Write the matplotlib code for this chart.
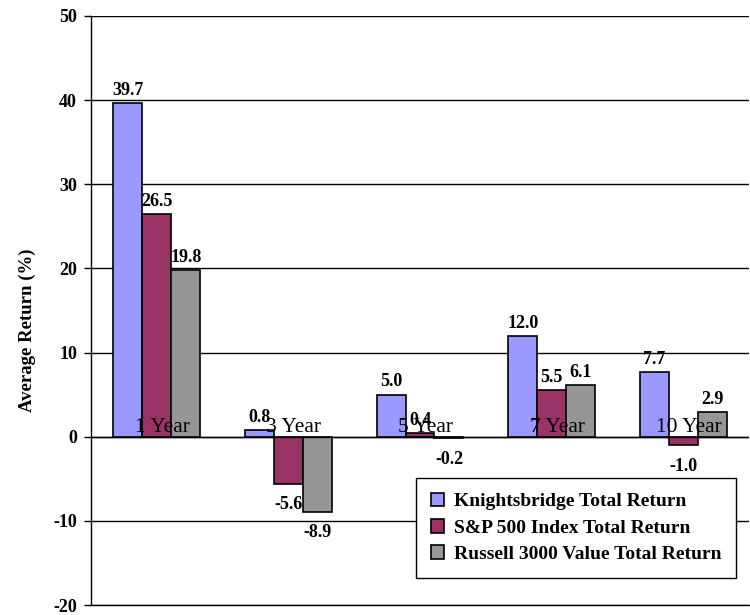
import matplotlib
matplotlib.use("Agg")
import matplotlib.pyplot as plt
import numpy as np

categories = ["1 Year", "3 Year", "5 Year", "7 Year", "10 Year"]
series_names = ["Knightsbridge Total Return", "S&P 500 Index Total Return", "Russell 3000 Value Total Return"]
knightsbridge = [39.7, 0.8, 5.0, 12.0, 7.7]
sp500 = [26.5, -5.6, 0.4, 5.5, -1.0]
russell = [19.8, -8.9, -0.2, 6.1, 2.9]
colors = ["#9999FF", "#993366", "#969696"]
yticks = [-20, -10, 0, 10, 20, 30, 40, 50]

plt.rcParams['font.family'] = ['Liberation Serif', 'DejaVu Serif']

fig = plt.figure(figsize=(7.5, 6.15), dpi=100)
ax = fig.add_axes([91/750, 1-605/615, (749-91)/750, (605-16)/615])

x = np.arange(len(categories))
w = 0.22
series = [knightsbridge, sp500, russell]
for i, (vals, c, name) in enumerate(zip(series, colors, series_names)):
    xs = x + (i - 1) * w
    ax.bar(xs, vals, width=w, color=c, edgecolor="black", linewidth=1.2, label=name, zorder=3)
    for xi, v in zip(xs, vals):
        if v >= 0:
            ax.annotate(f"{v:.1f}", (xi, v), xytext=(0, 3), textcoords="offset points",
                        ha="center", va="bottom", fontsize=13, fontweight="bold", zorder=5)
        else:
            ax.annotate(f"{v:.1f}", (xi, v), xytext=(0, -9), textcoords="offset points",
                        ha="center", va="top", fontsize=13, fontweight="bold", zorder=5)

for xi, cat in zip(x, categories):
    ax.annotate(cat, (xi, 0), xytext=(4, 0), textcoords="offset points",
                ha="center", va="bottom", fontsize=15.5, color="black", zorder=6)

ax.set_xlim(-0.5, len(categories) - 0.5)
ax.set_ylim(-20, 50)
ax.set_yticks(yticks)
ax.set_yticklabels([str(t) for t in yticks], fontsize=13, fontweight="bold")
ax.set_xticks([])
ax.yaxis.grid(True, color="black", linewidth=1.0, zorder=0)
ax.axhline(0, color="black", linewidth=1.0, zorder=4)
for s in ["top", "right"]:
    ax.spines[s].set_visible(False)
ax.spines["left"].set_linewidth(1.0)
ax.spines["bottom"].set_linewidth(1.0)
ax.tick_params(axis="y", length=5, width=1.0, pad=5)
ax.set_ylabel("Average Return (%)", fontsize=13.5, fontweight="bold")
ax.yaxis.set_label_coords(-0.083, 0.467)

leg = ax.legend(loc="upper right", bbox_to_anchor=(736/750, 1-478/615), bbox_transform=fig.transFigure,
                borderaxespad=0, fancybox=False, edgecolor="black", framealpha=1,
                prop={"weight": "bold", "size": 14}, handlelength=0.7, handleheight=0.7,
                handletextpad=0.5, labelspacing=0.45, borderpad=0.75)
leg.get_frame().set_linewidth(1.0)
leg.set_zorder(10)

fig.savefig("out.png", dpi=100)
